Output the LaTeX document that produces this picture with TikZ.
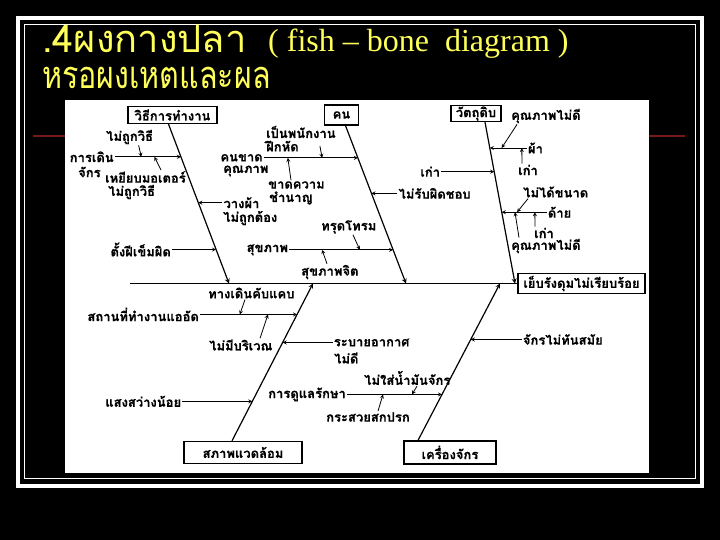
\documentclass[tikz,border=0pt]{standalone}
\usepackage{fontspec}
\usetikzlibrary{calc,positioning}
\newfontfamily\thaifont[Script=Thai]{Loma}
\newfontfamily\thainarrow[Script=Thai, FakeStretch=0.8]{Loma}
\newfontfamily\enserif{Liberation Serif}
\definecolor{ttlyellow}{RGB}{255,255,90}
\definecolor{slidered}{RGB}{120,25,25}
\newcommand{\lblfont}{\thaifont\bfseries\fontsize{13}{14}\selectfont\addfontfeature{FakeBold=0.5}}
\tikzset{>=stealth}
\tikzset{cause/.style={draw, line width=1.3pt, font=\lblfont, inner sep=1pt},
  lbl/.style={font=\lblfont, inner sep=1pt},
  bone/.style={->, line width=1.2pt},
  twig/.style={->, line width=0.8pt}}

\begin{document}
\begin{tikzpicture}[x=1pt, y=-1pt]
    \useasboundingbox[fill=black] (0,0) rectangle (720,540);
    \draw[white, line width=4pt] (18,18) rectangle (702,486);
    \draw[white, line width=1.3pt] (24.5,24.5) rectangle (695.5,478.5);
    \draw[slidered, line width=1.2pt] (33,136) -- (65,136) (649,136) -- (685,136);
    \fill[white] (65,100) rectangle (649,473);
    % title
    \node[anchor=base west, inner sep=0, text=ttlyellow, font=\thaifont\fontsize{38}{38}\selectfont] (title) at (42,53) {.4ผงกางปลา};
    \node[anchor=base west, inner sep=0, text=ttlyellow, font=\enserif\fontsize{32}{32}\selectfont] (title-en) at (268,52) {( fish – bone~ diagram )};
    \node[anchor=base west, inner sep=0, text=ttlyellow, font=\thainarrow\fontsize{38}{38}\selectfont] (subtitle) at (42,89) {หรอผงเหตและผล};
    % head and spine
    \node[cause, minimum width=127pt, minimum height=20pt] (effect) at (581.5,283.5) {เย็บรังดุมไม่เรียบร้อย};
    \coordinate (tail) at (130,283.5);
    \draw[line width=1.5pt] (tail) -- (effect.west);
    \node[cause, minimum width=89pt, minimum height=17pt] (method) at (172.5,115) {วิธีการทำงาน};
    \node[cause, minimum width=34pt, minimum height=20pt] (man) at (341.5,115) {คน};
    \node[cause, minimum width=50pt, minimum height=16pt] (material) at (476,113.5) {วัตถุดิบ};
    \node[cause, minimum width=118pt, minimum height=22pt] (env) at (243,452.5) {สภาพแวดล้อม};
    \node[cause, minimum width=92pt, minimum height=23pt] (machine) at (450,452.5) {เครื่องจักร};
    % bones
    \coordinate (m0) at ([xshift=-4pt]method.south);  \coordinate (m9) at (229,283.5);
    \coordinate (p0) at ([xshift=4pt]man.south);      \coordinate (p9) at (406,283.5);
    \coordinate (r0) at ([xshift=9pt]material.south); \coordinate (r9) at (515,283.5);
    \coordinate (e0) at ([xshift=-11pt]env.north);    \coordinate (e9) at (313,283.5);
    \coordinate (k0) at ([xshift=-32pt]machine.north); \coordinate (k9) at (500,283.5);
    \draw[bone] (m0) -- (m9);
    \draw[bone] (p0) -- (p9);
    \draw[bone] (r0) -- (r9);
    \draw[bone] (e0) -- (e9);
    \draw[bone] (k0) -- (k9);
    \coordinate (m1) at ($(m0)!0.205!(m9)$);
    \coordinate (m2) at ($(m0)!0.493!(m9)$);
    \coordinate (m3) at ($(m0)!0.787!(m9)$);
    \coordinate (p1) at ($(p0)!0.204!(p9)$);
    \coordinate (p2) at ($(p0)!0.429!(p9)$);
    \coordinate (p3) at ($(p0)!0.787!(p9)$);
    \coordinate (r1) at ($(r0)!0.160!(r9)$);
    \coordinate (r2) at ($(r0)!0.307!(r9)$);
    \coordinate (r3) at ($(r0)!0.558!(r9)$);
    \coordinate (e1) at ($(e0)!0.803!(e9)$);
    \coordinate (e2) at ($(e0)!0.625!(e9)$);
    \coordinate (e3) at ($(e0)!0.251!(e9)$);
    \coordinate (k1) at ($(k0)!0.643!(k9)$);
    \coordinate (k2) at ($(k0)!0.293!(k9)$);
    % methods
    \node[lbl, left=66pt of m1] (walk) {การเดิน};
    \node[lbl, anchor=west] (walk2) at (77,172) {จักร};
    \draw[twig] (walk) -- (m1);
    \coordinate (m1a) at ($(walk.east)!0.4!(m1)$);
    \coordinate (m1b) at ($(walk.east)!0.6!(m1)$);
    \node[lbl, anchor=west] (notright) at (105,137) {ไม่ถูกวิธี};
    \draw[twig] ([xshift=9pt]notright.south) -- (m1a);
    \node[lbl, anchor=west] (stepmotor) at (104,177) {เหยียบมอเตอร์};
    \node[lbl, anchor=west] (notright2) at (107,192) {ไม่ถูกวิธี};
    \draw[twig] ([xshift=57pt]stepmotor.north west) -- (m1b);
    \node[lbl, right=24pt of m2] (place) {วางผ้า};
    \node[lbl, anchor=west] (place2) at (222,218) {ไม่ถูกต้อง};
    \draw[twig] (place) -- (m2);
    \node[lbl, left=44pt of m3] (needle) {ตั้งฝีเข็มผิด};
    \draw[twig] (needle) -- (m3);
    % people
    \node[lbl, left=94pt of p1] (lack) {คนขาด};
    \node[lbl, anchor=west] (lack2) at (222,171) {คุณภาพ};
    \draw[twig] (lack) -- (p1);
    \coordinate (p1a) at ($(lack.east)!0.62!(p1)$);
    \coordinate (p1b) at ($(lack.east)!0.255!(p1)$);
    \node[lbl, anchor=west] (trainee) at (265,132) {เป็นพนักงาน};
    \node[lbl, anchor=west] (trainee2) at (265,146) {ฝึกหัด};
    \draw[twig] ([xshift=20pt]trainee2.east) -- (p1a);
    \node[lbl, anchor=west] (skill) at (267,185) {ขาดความ};
    \node[lbl, anchor=west] (skill2) at (268,198) {ชำนาญ};
    \draw[twig] ([xshift=24pt]skill.north west) -- (p1b);
    \node[lbl, right=26pt of p2] (resp) {ไม่รับผิดชอบ};
    \draw[twig] (resp) -- (p2);
    \node[lbl, left=104pt of p3] (health) {สุขภาพ};
    \draw[twig] (health) -- (p3);
    \coordinate (p3a) at ($(health.east)!0.68!(p3)$);
    \coordinate (p3b) at ($(health.east)!0.317!(p3)$);
    \node[lbl, anchor=west] (worn) at (320,227) {ทรุดโทรม};
    \draw[twig] ([xshift=33pt]worn.south west) -- (p3a);
    \node[lbl, anchor=west] (mental) at (300,272) {สุขภาพจิต};
    \draw[twig] ([xshift=27pt]mental.north west) -- (p3b);
    % materials
    \node[lbl, right=37pt of r1] (cloth) {ผ้า};
    \draw[twig] (cloth) -- (r1);
    \coordinate (r1a) at ($(cloth.west)!0.68!(r1)$);
    \coordinate (r1b) at ($(cloth.west)!0.135!(r1)$);
    \node[lbl, anchor=west] (quality) at (510,116) {คุณภาพไม่ดี};
    \draw[twig] ([xshift=7pt]quality.south west) -- (r1a);
    \node[lbl, anchor=west] (old) at (517,170) {เก่า};
    \draw[twig] ([xshift=5pt]old.north west) -- (r1b);
    \node[lbl, left=53pt of r2] (old2) {เก่า};
    \draw[twig] (old2) -- (r2);
    \node[lbl, right=45pt of r3] (thread) {ด้าย};
    \draw[twig] (thread) -- (r3);
    \coordinate (r3a) at ($(thread.west)!0.66!(r3)$);
    \coordinate (r3b) at ($(thread.west)!0.265!(r3)$);
    \coordinate (r3c) at ($(thread.west)!0.706!(r3)$);
    \node[lbl, anchor=west] (size) at (522,192) {ไม่ได้ขนาด};
    \draw[twig] ([xshift=6pt]size.south west) -- (r3a);
    \node[lbl, anchor=west] (old3) at (533,233) {เก่า};
    \draw[twig] ([xshift=2pt]old3.north west) -- (r3b);
    \node[lbl, anchor=west] (quality2) at (510,246) {คุณภาพไม่ดี};
    \draw[twig] ([xshift=9pt]quality2.north west) -- (r3c);
    % environment
    \node[lbl, left=97pt of e1] (crowd) {สถานที่ทำงานแออัด};
    \draw[twig] (crowd) -- (e1);
    \coordinate (e1a) at ($(crowd.east)!0.41!(e1)$);
    \coordinate (e1b) at ($(crowd.east)!0.70!(e1)$);
    \node[lbl, anchor=west] (narrow) at (207,293) {ทางเดินคับแคบ};
    \draw[twig] ([xshift=38pt]narrow.south west) -- (e1a);
    \node[lbl, anchor=west] (noarea) at (208,345) {ไม่มีบริเวณ};
    \draw[twig] ([xshift=52pt]noarea.north west) -- (e1b);
    \node[lbl, right=50pt of e2] (vent) {ระบายอากาศ};
    \node[lbl, anchor=west] (vent2) at (333,358) {ไม่ดี};
    \draw[twig] (vent) -- (e2);
    \node[lbl, left=70pt of e3] (light) {แสงสว่างน้อย};
    \draw[twig] (light) -- (e3);
    % machines
    \node[lbl, right=51pt of k1] (modern) {จักรไม่ทันสมัย};
    \draw[twig] (modern) -- (k1);
    \node[lbl, left=95pt of k2] (care) {การดูแลรักษา};
    \draw[twig] (care) -- (k2);
    \coordinate (k2a) at ($(care.east)!0.684!(k2)$);
    \coordinate (k2b) at ($(care.east)!0.379!(k2)$);
    \node[lbl, anchor=west] (oil) at (363,378) {ไม่ใส่น้ำมันจักร};
    \draw[twig] ([xshift=54pt]oil.south west) -- (k2a);
    \node[lbl, anchor=west] (bobbin) at (325,417) {กระสวยสกปรก};
    \draw[twig] ([xshift=53pt]bobbin.north west) -- (k2b);
\end{tikzpicture}
\end{document}
